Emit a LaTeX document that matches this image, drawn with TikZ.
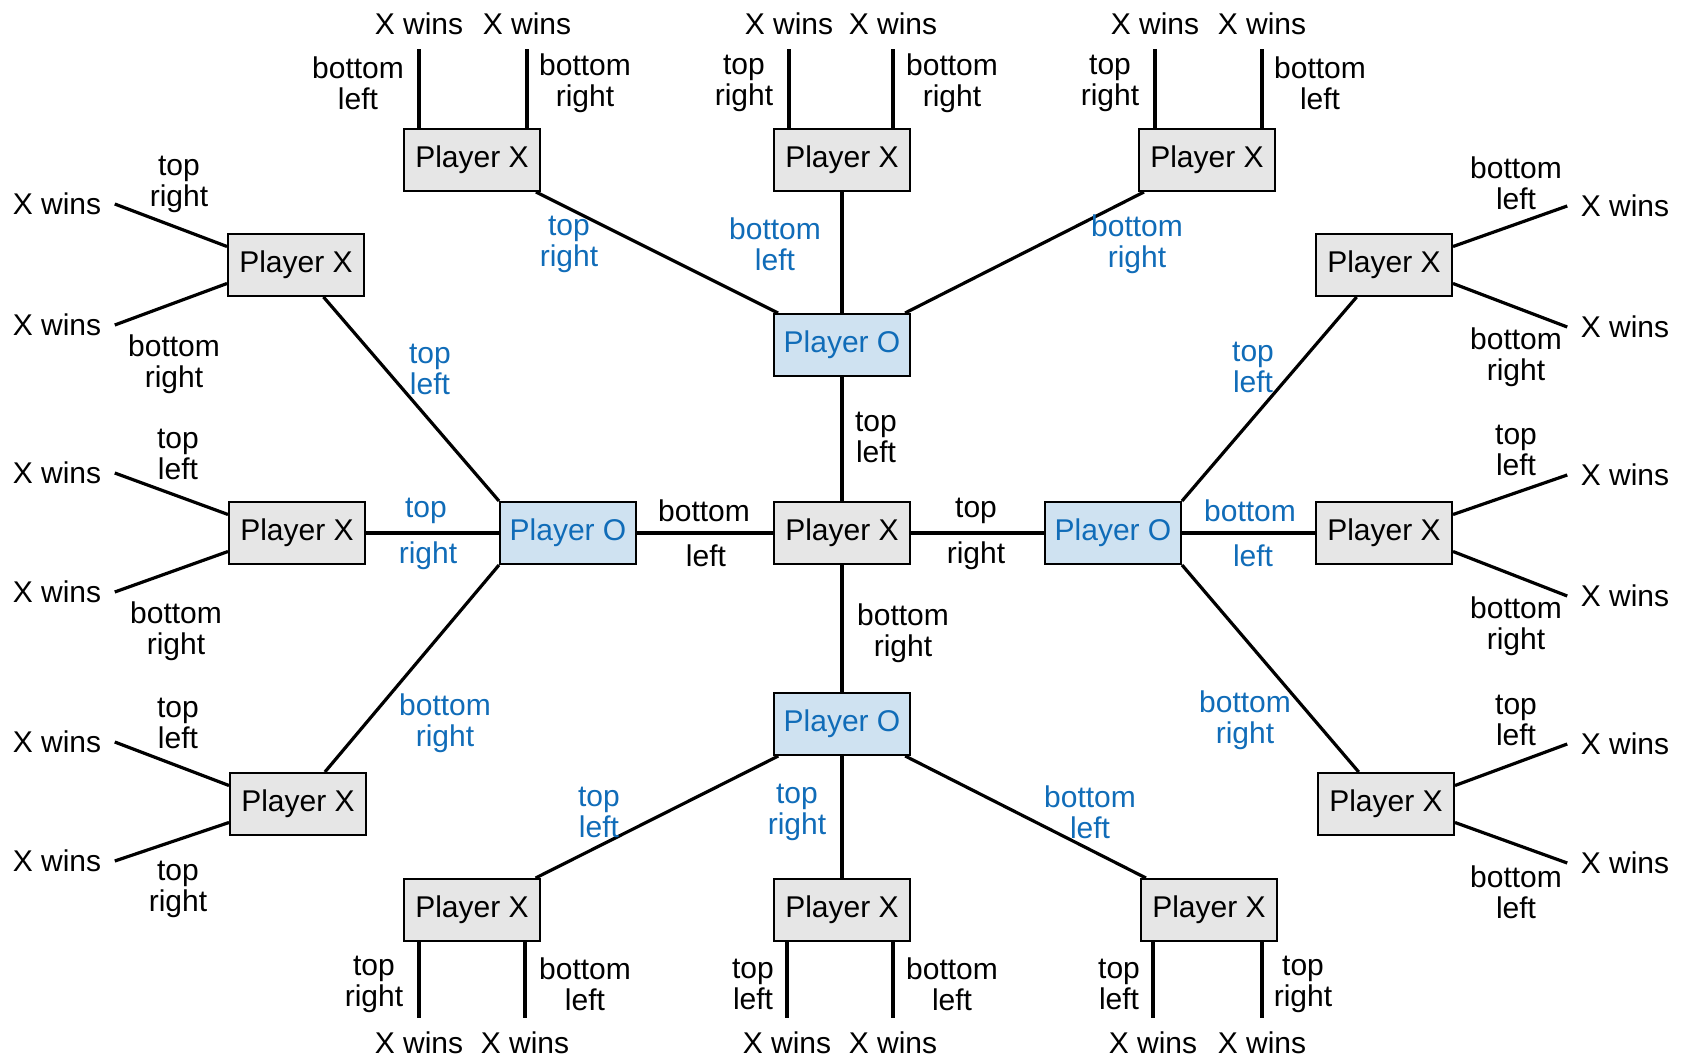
\documentclass[tikz,border=0pt]{standalone}
\usepackage{fontspec}
\setmainfont{Liberation Sans}
\usetikzlibrary{positioning}
\definecolor{oblue}{RGB}{16,108,184}
\definecolor{ofill}{RGB}{207,226,241}
\definecolor{xfill}{RGB}{230,230,230}

\begin{document}
\begin{tikzpicture}[x=0.5pt,y=-0.5pt,line width=1.6pt,align=center,
	every node/.style={font=\fontsize{15}{15.5}\selectfont},
	xbox/.style={draw,line width=1pt,fill=xfill,minimum width=68pt,minimum height=31pt},
	obox/.style={xbox,fill=ofill,text=oblue},
	wins/.style={inner sep=6pt},
	lab/.style={inner sep=1pt},
	olab/.style={lab,text=oblue}]
		\useasboundingbox (0,0) rectangle (1686,1059);
		% centre and the four O moves
		\node[xbox] (x_0) at (842,533) {Player X};
		\node[obox] (o_t) at (842,345) {Player O};
		\node[obox] (o_l) at (568,533) {Player O};
		\node[obox] (o_r) at (1113,533) {Player O};
		\node[obox] (o_b) at (842,724) {Player O};
		% X moves
		\node[xbox] (x_tl) at (472,160) {Player X};
		\node[xbox] (x_tm) at (842,160) {Player X};
		\node[xbox] (x_tr) at (1207,160) {Player X};
		\node[xbox] (x_lt) at (296,265) {Player X};
		\node[xbox] (x_lm) at (297,533) {Player X};
		\node[xbox] (x_lb) at (298,804) {Player X};
		\node[xbox] (x_rt) at (1384,265) {Player X};
		\node[xbox] (x_rm) at (1384,533) {Player X};
		\node[xbox] (x_rb) at (1386,804) {Player X};
		\node[xbox] (x_bl) at (472,910) {Player X};
		\node[xbox] (x_bm) at (842,910) {Player X};
		\node[xbox] (x_br) at (1209,910) {Player X};
		% end states
		\node[wins] (w_tl1) at (419,24) {X wins};
		\node[wins] (w_tl2) at (527,24) {X wins};
		\node[wins] (w_tm1) at (789,24) {X wins};
		\node[wins] (w_tm2) at (893,24) {X wins};
		\node[wins] (w_tr1) at (1155,24) {X wins};
		\node[wins] (w_tr2) at (1262,24) {X wins};
		\node[wins] (w_bl1) at (419,1043) {X wins};
		\node[wins] (w_bl2) at (525,1043) {X wins};
		\node[wins] (w_bm1) at (787,1043) {X wins};
		\node[wins] (w_bm2) at (893,1043) {X wins};
		\node[wins] (w_br1) at (1153,1043) {X wins};
		\node[wins] (w_br2) at (1262,1043) {X wins};
		\node[wins] (w_lt1) at (57,204) {X wins};
		\node[wins] (w_lt2) at (57,325) {X wins};
		\node[wins] (w_lm1) at (57,473) {X wins};
		\node[wins] (w_lm2) at (57,592) {X wins};
		\node[wins] (w_lb1) at (57,742) {X wins};
		\node[wins] (w_lb2) at (57,861) {X wins};
		\node[wins] (w_rt1) at (1625,206) {X wins};
		\node[wins] (w_rt2) at (1625,327) {X wins};
		\node[wins] (w_rm1) at (1625,475) {X wins};
		\node[wins] (w_rm2) at (1625,596) {X wins};
		\node[wins] (w_rb1) at (1625,744) {X wins};
		\node[wins] (w_rb2) at (1625,863) {X wins};
		\path[draw]
			(x_0) edge (o_t)
			(x_0) edge (o_l)
			(x_0) edge (o_r)
			(x_0) edge (o_b)
			(o_t) edge (x_tl)
			(o_t) edge (x_tm)
			(o_t) edge (x_tr)
			(o_l.north west) edge (x_lt)
			(o_l) edge (x_lm)
			(o_l.south west) edge (x_lb)
			(o_r.north east) edge (x_rt)
			(o_r) edge (x_rm)
			(o_r.south east) edge (x_rb)
			(o_b) edge (x_bl)
			(o_b) edge (x_bm)
			(o_b) edge (x_br);
		\path[draw]
			(x_tl.north -| w_tl1) edge (w_tl1.south)
			(x_tl.north -| w_tl2) edge (w_tl2.south)
			(x_tm.north -| w_tm1) edge (w_tm1.south)
			(x_tm.north -| w_tm2) edge (w_tm2.south)
			(x_tr.north -| w_tr1) edge (w_tr1.south)
			(x_tr.north -| w_tr2) edge (w_tr2.south)
			(x_bl.south -| w_bl1) edge (w_bl1.north)
			(x_bl.south -| w_bl2) edge (w_bl2.north)
			(x_bm.south -| w_bm1) edge (w_bm1.north)
			(x_bm.south -| w_bm2) edge (w_bm2.north)
			(x_br.south -| w_br1) edge (w_br1.north)
			(x_br.south -| w_br2) edge (w_br2.north)
			(x_lt.165) edge (w_lt1.east)
			(x_lt.195) edge (w_lt2.east)
			(x_lm.165) edge (w_lm1.east)
			(x_lm.195) edge (w_lm2.east)
			(x_lb.165) edge (w_lb1.east)
			(x_lb.195) edge (w_lb2.east)
			(x_rt.15) edge (w_rt1.west)
			(x_rt.-15) edge (w_rt2.west)
			(x_rm.15) edge (w_rm1.west)
			(x_rm.-15) edge (w_rm2.west)
			(x_rb.15) edge (w_rb1.west)
			(x_rb.-15) edge (w_rb2.west);
		% move labels, X to O
		\node[lab] (l_0t) at (876,437) {top\\left};
		\node[lab] (l_0l1) at (704,511) {bottom};
		\node[lab] (l_0l2) at (706,556) {left};
		\node[lab] (l_0r1) at (976,511) {top};
		\node[lab] (l_0r2) at (976,556) {right};
		\node[lab] (l_0b) at (903,633) {bottom\\right};
		% move labels, O to X
		\node[olab] (l_ttl) at (569,244) {top\\right};
		\node[olab] (l_ttm) at (775,244) {bottom\\left};
		\node[olab] (l_ttr) at (1137,244) {bottom\\right};
		\node[olab] (l_llt) at (430,369) {top\\left};
		\node[olab] (l_llm1) at (426,511) {top};
		\node[olab] (l_llm2) at (428,556) {right};
		\node[olab] (l_llb) at (445,723) {bottom\\right};
		\node[olab] (l_rrt) at (1253,367) {top\\left};
		\node[olab] (l_rrm1) at (1250,511) {bottom};
		\node[olab] (l_rrm2) at (1253,556) {left};
		\node[olab] (l_rrb) at (1245,720) {bottom\\right};
		\node[olab] (l_bbl) at (599,812) {top\\left};
		\node[olab] (l_bbm) at (797,812) {top\\right};
		\node[olab] (l_bbr) at (1090,812) {bottom\\left};
		% move labels, X to end
		\node[lab] (l_tl1) at (358,83) {bottom\\left};
		\node[lab] (l_tl2) at (585,83) {bottom\\right};
		\node[lab] (l_tm1) at (744,83) {top\\right};
		\node[lab] (l_tm2) at (952,83) {bottom\\right};
		\node[lab] (l_tr1) at (1110,83) {top\\right};
		\node[lab] (l_tr2) at (1320,83) {bottom\\left};
		\node[lab] (l_bl1) at (374,984) {top\\right};
		\node[lab] (l_bl2) at (585,984) {bottom\\left};
		\node[lab] (l_bm1) at (753,984) {top\\left};
		\node[lab] (l_bm2) at (952,984) {bottom\\left};
		\node[lab] (l_br1) at (1119,984) {top\\left};
		\node[lab] (l_br2) at (1303,984) {top\\right};
		\node[lab] (l_lt1) at (179,184) {top\\right};
		\node[lab] (l_lt2) at (174,364) {bottom\\right};
		\node[lab] (l_lm1) at (178,454) {top\\left};
		\node[lab] (l_lm2) at (176,631) {bottom\\right};
		\node[lab] (l_lb1) at (178,723) {top\\left};
		\node[lab] (l_lb2) at (178,889) {top\\right};
		\node[lab] (l_rt1) at (1516,183) {bottom\\left};
		\node[lab] (l_rt2) at (1516,357) {bottom\\right};
		\node[lab] (l_rm1) at (1516,450) {top\\left};
		\node[lab] (l_rm2) at (1516,626) {bottom\\right};
		\node[lab] (l_rb1) at (1516,720) {top\\left};
		\node[lab] (l_rb2) at (1516,892) {bottom\\left};
\end{tikzpicture}
\end{document}
